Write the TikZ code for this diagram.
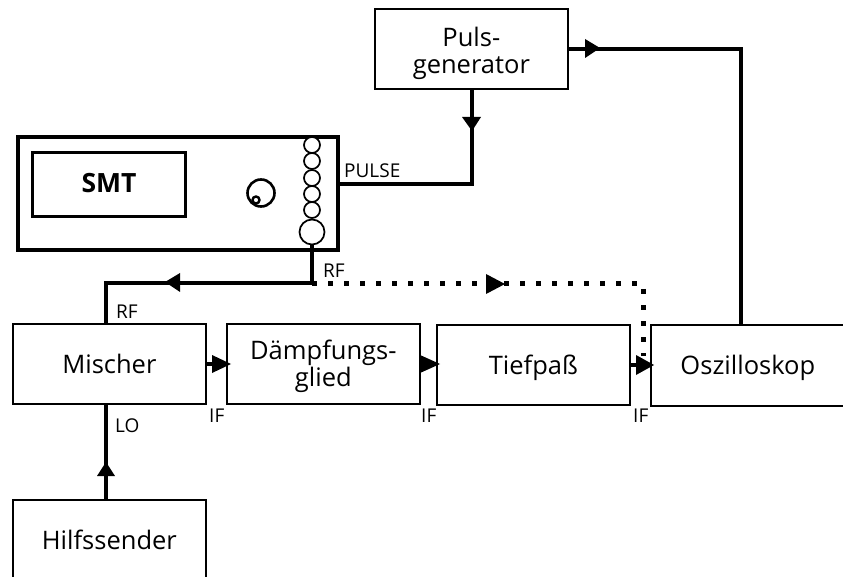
\documentclass[tikz,border=0pt]{standalone}
\usepackage{fontspec}
\setmainfont{Open Sans}
\usetikzlibrary{arrows.meta}
\tikzset{
  x=1pt,y=-1pt,
  blockbox/.style={draw=black,line width=1.7pt,minimum width=193pt,minimum height=80pt,inner sep=0pt,align=center,font=\fontsize{25.5}{27}\selectfont,anchor=north west},
  wire/.style={line width=4pt},
  dotwire/.style={line width=5pt,dash pattern=on 5pt off 11pt},
  tip/.style={fill=black,draw=none},
  portlabel/.style={font=\fontsize{19}{20}\selectfont,inner sep=0pt,anchor=base west},
  port/.style={draw=black,line width=1.7pt,fill=white,circle,inner sep=0pt}
}
\begin{document}
\begin{tikzpicture}
\useasboundingbox (0,0) rectangle (843,577);
\node[blockbox] (puls) at (374,8) {\rule{0pt}{27.5pt}Puls-\\generator};
\node[draw=black,line width=4pt,minimum width=320pt,minimum height=113pt,inner sep=0pt,anchor=north west] (smt) at (16,135) {};
\node[draw=black,line width=3pt,minimum width=153pt,minimum height=64pt,inner sep=0pt,anchor=north west,font=\fontsize{26.5}{27}\bfseries\selectfont] (disp) at (31,151) {\raisebox{4pt}{SMT}\hspace{12pt}};
\node[blockbox] (mischer) at (12,323) {Mischer};
\node[blockbox] (daempf) at (226,323) {\rule{0pt}{23.5pt}Dämpfungs-\\glied};
\node[blockbox] (tief) at (436,324) {\rule{0pt}{24.5pt}Tiefpaß};
\node[blockbox,minimum width=194pt,minimum height=81pt] (oszi) at (650,324) {\rule{0pt}{24.5pt}Oszilloskop};
\node[blockbox] (hilf) at (12,499) {Hilfssender};
\node[port,minimum size=16pt] (c1) at (312,145) {};
\node[port,minimum size=16pt] (c2) at (312,161) {};
\node[port,minimum size=16pt] (c3) at (312,178) {};
\node[port,minimum size=16pt] (c4) at (312,194) {};
\node[port,minimum size=16pt] (c5) at (312,210) {};
\node[port,minimum size=25pt] (c6) at (312,232) {};
\node[draw=black,line width=2.6pt,circle,minimum size=27pt,inner sep=0pt] (knob) at (261,193) {};
\node[draw=black,line width=2.4pt,circle,minimum size=7pt,inner sep=0pt] (knobdot) at (256,200) {};
\coordinate (rfj) at (c6.south |- 0,283);
\coordinate (pc) at (472,184);
\coordinate (pt) at (741,49);
\coordinate (mx) at (106,283);
\coordinate (dc) at (643,284);
\draw[wire] (smt.east |- pc) -- (pc) -- (pc |- puls.south);
\draw[wire] (puls.east |- pt) -- (pt) -- (pt |- oszi.north);
\draw[wire] (c6.south) -- (rfj) -- (mx) -- (mx |- mischer.north);
\draw[wire] (mx |- hilf.north) -- (mx |- mischer.south);
\draw[dotwire] (rfj |- dc) -- (dc) -- (dc |- 0,356);
\draw[wire] (mischer.east |- 0,364) -- (daempf.west |- 0,364);
\draw[wire] (daempf.east |- 0,364) -- (tief.west |- 0,364);
\draw[wire] (tief.east |- 0,365) -- (oszi.west |- 0,365);
\fill[tip] (165,282) -- (180,273) -- (180,292) -- cycle;
\fill[tip] (486,274) -- (486,294) -- (505,284) -- cycle;
\fill[tip] (462,117) -- (481,117) -- (472,131) -- cycle;
\fill[tip] (585,39) -- (585,58) -- (600,48) -- cycle;
\fill[tip] (97,476) -- (115,476) -- (106,462) -- cycle;
\fill[tip] (212,355) -- (212,373) -- (231,364) -- cycle;
\fill[tip] (420,355) -- (420,373) -- (440,364) -- cycle;
\fill[tip] (636,355) -- (636,375) -- (654,365) -- cycle;
\node[portlabel] (lpulse) at (344,178) {PULSE};
\node[portlabel] (lrf1) at (323,277) {RF};
\node[portlabel] (lrf2) at (116,318) {RF};
\node[portlabel] (llo) at (115,432) {LO};
\node[portlabel] (lif1) at (209,422) {IF};
\node[portlabel] (lif2) at (421,422) {IF};
\node[portlabel] (lif3) at (633,422) {IF};
\end{tikzpicture}
\end{document}
